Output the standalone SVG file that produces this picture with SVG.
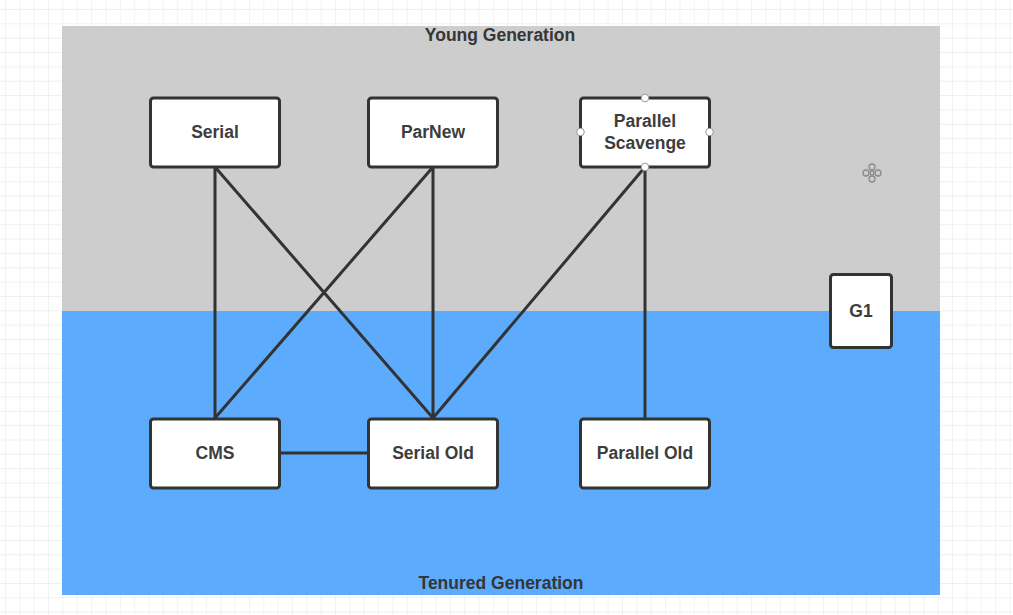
<svg xmlns="http://www.w3.org/2000/svg" width="1013" height="615" viewBox="0 0 1013 615">
  <defs>
    <pattern id="grid" x="5" y="9" width="14.35" height="14.35" patternUnits="userSpaceOnUse">
      <path d="M0 0 H14.35 M0 0 V14.35" fill="none" stroke="#ebebeb" stroke-width="1.2"/>
    </pattern>
    <style>
      .node rect { fill: #ffffff; stroke: #333333; stroke-width: 3; }
      .label { font-family: "Liberation Sans", Arial, sans-serif; font-weight: bold; font-size: 17.5px; fill: #3d3d3d; text-anchor: middle; }
      .title { font-family: "Liberation Sans", Arial, sans-serif; font-weight: bold; font-size: 17.5px; fill: #363636; text-anchor: middle; }
      .edges line { stroke: #333333; stroke-width: 3; stroke-linecap: round; }
      .handle { fill: #ffffff; stroke: #999999; stroke-width: 1; }
      .move circle { fill: none; stroke: #8a8a8a; stroke-width: 1.3; }
    </style>
  </defs>

  <rect x="0" y="0" width="1013" height="615" fill="#ffffff"/>
  <rect x="0" y="0" width="1013" height="615" fill="url(#grid)"/>

  <g id="young-generation">
    <rect x="62" y="26" width="878" height="285" fill="#cdcdcd"/>
    <text class="title" x="500" y="41">Young Generation</text>
  </g>
  <g id="tenured-generation">
    <rect x="62" y="311" width="878" height="284" fill="#5cabfd"/>
    <text class="title" x="501" y="589">Tenured Generation</text>
  </g>

  <g id="connectors" class="edges">
    <line x1="215" y1="167" x2="215" y2="418"/>
    <line x1="215" y1="167" x2="433" y2="418"/>
    <line x1="433" y1="167" x2="215" y2="418"/>
    <line x1="433" y1="167" x2="433" y2="418"/>
    <line x1="645" y1="167" x2="433" y2="418"/>
    <line x1="645" y1="167" x2="645" y2="418"/>
    <line x1="280" y1="453" x2="368" y2="453"/>
  </g>

  <g id="serial" class="node">
    <rect x="150.5" y="98" width="129" height="69" rx="3"/>
    <text class="label" x="215" y="138">Serial</text>
  </g>
  <g id="parnew" class="node">
    <rect x="368.5" y="98" width="129" height="69" rx="3"/>
    <text class="label" x="433" y="138">ParNew</text>
  </g>
  <g id="parallel-scavenge" class="node">
    <rect x="580.5" y="98" width="129" height="69" rx="3"/>
    <text class="label" x="645" y="127">Parallel</text>
    <text class="label" x="645" y="149">Scavenge</text>
    <circle class="handle" cx="645" cy="98" r="3.8"/>
    <circle class="handle" cx="580.5" cy="132" r="3.8"/>
    <circle class="handle" cx="709.5" cy="132" r="3.8"/>
    <circle class="handle" cx="645" cy="167" r="3.8"/>
  </g>
  <g id="cms" class="node">
    <rect x="150.5" y="419" width="129" height="69" rx="3"/>
    <text class="label" x="215" y="459">CMS</text>
  </g>
  <g id="serial-old" class="node">
    <rect x="368.5" y="419" width="129" height="69" rx="3"/>
    <text class="label" x="433" y="459">Serial Old</text>
  </g>
  <g id="parallel-old" class="node">
    <rect x="580.5" y="419" width="129" height="69" rx="3"/>
    <text class="label" x="645" y="459">Parallel Old</text>
  </g>
  <g id="g1" class="node">
    <rect x="830.5" y="274.5" width="61" height="73" rx="3"/>
    <text class="label" x="861" y="317">G1</text>
  </g>

  <g id="move-cursor" class="move">
    <circle cx="872" cy="167" r="3"/>
    <circle cx="866" cy="173" r="3"/>
    <circle cx="878" cy="173" r="3"/>
    <circle cx="872" cy="179" r="3"/>
    <circle cx="872" cy="173" r="2"/>
  </g>
</svg>
